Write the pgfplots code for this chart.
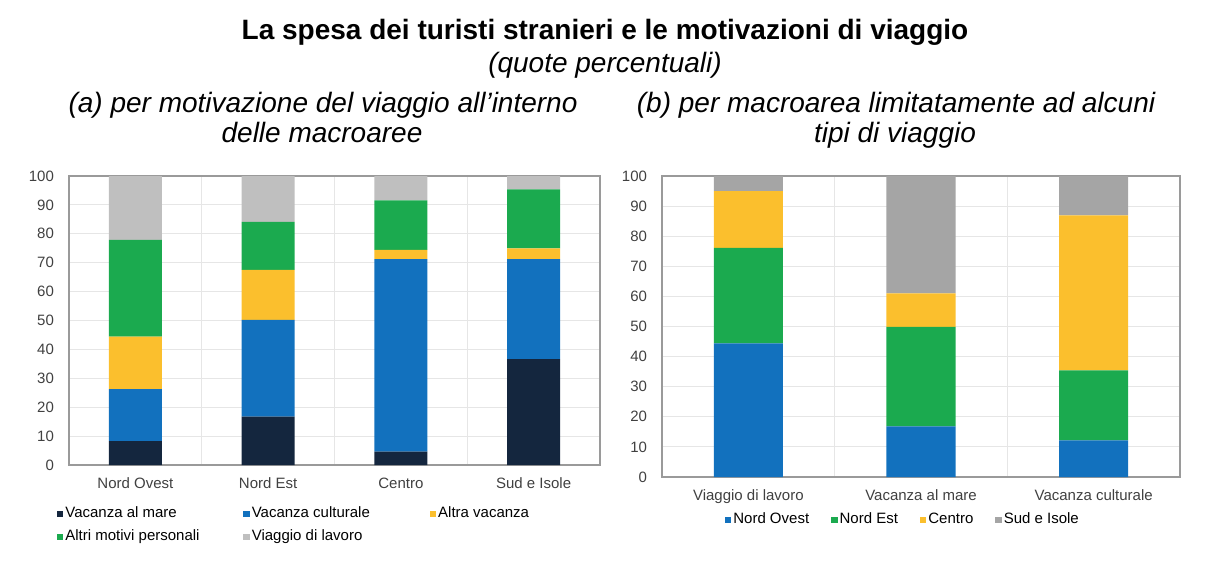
\documentclass[border=0pt]{standalone}
\usepackage{fontspec}
\setmainfont{Liberation Sans}
\usepackage{pgfplots}
\pgfplotsset{compat=1.18}

\definecolor{cNavy}{HTML}{14263E}
\definecolor{cBlue}{HTML}{1271BE}
\definecolor{cYellow}{HTML}{FBBF2D}
\definecolor{cGreen}{HTML}{1BAA4F}
\definecolor{cLight}{HTML}{BFBFBF}
\definecolor{cGray}{HTML}{A5A5A5}
\definecolor{gridc}{HTML}{E6E6E6}
\definecolor{framec}{HTML}{9A9A9A}
\definecolor{tickc}{HTML}{404040}

\newcommand{\fsmall}{\fontsize{7.5}{9}\selectfont}
\newcommand{\fbig}{\fontsize{14}{16}\selectfont}
\newcommand{\lcell}[1]{\makebox[88pt][l]{#1}}

\pgfplotsset{
  panel/.style={
    scale only axis, anchor=south west,
    ybar stacked, bar width=0.4,
    ymin=0, ymax=100, ytick={0,10,...,100},
    enlargelimits=false,
    ymajorgrids, xminorgrids,
    major tick length=0pt, minor tick length=0pt,
    grid style={draw=gridc, line width=0.5pt},
    minor grid style={draw=gridc, line width=0.5pt},
    axis line style={draw=framec, line width=0.6pt},
    /pgf/number format/assume math mode=true,
    tick label style={font=\fsmall, text=tickc},
    yticklabel style={xshift=-4pt},
    xticklabel style={yshift=-3pt},
    legend image code/.code={\fill[##1] (0pt,-1.6pt) rectangle (3.2pt,1.6pt);},
    legend cell align=left,
  },
}

\begin{document}
\begin{tikzpicture}
\useasboundingbox (0,0) rectangle (612pt,285pt);

\node[anchor=base, font=\fbig\bfseries] at (302.5pt,265.5pt) {La spesa dei turisti stranieri e le motivazioni di viaggio};
\node[anchor=base, font=\fbig\itshape] at (302.5pt,249pt) {(quote percentuali)};
\node[anchor=base, font=\fbig\itshape] at (161.5pt,229pt) {(a) per motivazione del viaggio all’interno};
\node[anchor=base, font=\fbig\itshape] at (161pt,214pt) {delle macroaree};
\node[anchor=base, font=\fbig\itshape] at (448pt,229pt) {(b) per macroarea limitatamente ad alcuni};
\node[anchor=base, font=\fbig\itshape] at (447.5pt,214pt) {tipi di viaggio};

% (a) motivazione all'interno delle macroaree
\begin{axis}[panel,
  at={(34.5pt,52.5pt)}, width=265.5pt, height=144.5pt,
  xmin=-0.5, xmax=3.5,
  xtick={0,1,2,3},
  xticklabels={Nord Ovest, Nord Est, Centro, Sud e Isole},
  minor xtick={0.5,1.5,2.5},
  legend columns=3,
  legend style={at={(-0.0226,-0.209)}, anchor=west, draw=none, fill=none,
    inner sep=0pt, outer sep=0pt, font=\fsmall, row sep=2.5pt,
    nodes={inner sep=1pt, text height=5.5pt, text depth=1.6pt},
    /tikz/every even column/.append style={column sep=0pt}},
]
\addplot[fill=cNavy, draw=none] coordinates {(0,8.3) (1,16.7) (2,4.6) (3,36.6)};
\addlegendentry{\lcell{Vacanza al mare}}
\addplot[fill=cBlue, draw=none] coordinates {(0,18.0) (1,33.5) (2,66.6) (3,34.6)};
\addlegendentry{\lcell{Vacanza culturale}}
\addplot[fill=cYellow, draw=none] coordinates {(0,18.1) (1,17.3) (2,3.2) (3,3.8)};
\addlegendentry{\lcell{Altra vacanza}}
\addplot[fill=cGreen, draw=none] coordinates {(0,33.5) (1,16.6) (2,17.2) (3,20.4)};
\addlegendentry{\lcell{Altri motivi personali}}
\addplot[fill=cLight, draw=none] coordinates {(0,22.1) (1,15.9) (2,8.4) (3,4.6)};
\addlegendentry{\lcell{Viaggio di lavoro}}
\end{axis}

% (b) macroarea per tipo di viaggio
\begin{axis}[panel,
  at={(331pt,46.5pt)}, width=259pt, height=150.5pt,
  xmin=-0.5, xmax=2.5,
  xtick={0,1,2},
  xticklabels={Viaggio di lavoro, Vacanza al mare, Vacanza culturale},
  minor xtick={0.5,1.5},
  legend columns=4,
  legend style={at={(0.465,-0.143)}, anchor=center, draw=none, fill=none,
    inner sep=0pt, outer sep=0pt, font=\fsmall,
    nodes={inner sep=1pt, text height=5.5pt, text depth=1.6pt},
    /tikz/every even column/.append style={column sep=10pt}},
]
\addplot[fill=cBlue, draw=none] coordinates {(0,44.4) (1,16.8) (2,12.2)};
\addlegendentry{Nord Ovest}
\addplot[fill=cGreen, draw=none] coordinates {(0,31.7) (1,33.1) (2,23.2)};
\addlegendentry{Nord Est}
\addplot[fill=cYellow, draw=none] coordinates {(0,18.9) (1,11.1) (2,51.5)};
\addlegendentry{Centro}
\addplot[fill=cGray, draw=none] coordinates {(0,5.0) (1,39.0) (2,13.1)};
\addlegendentry{Sud e Isole}
\end{axis}
\end{tikzpicture}
\end{document}
